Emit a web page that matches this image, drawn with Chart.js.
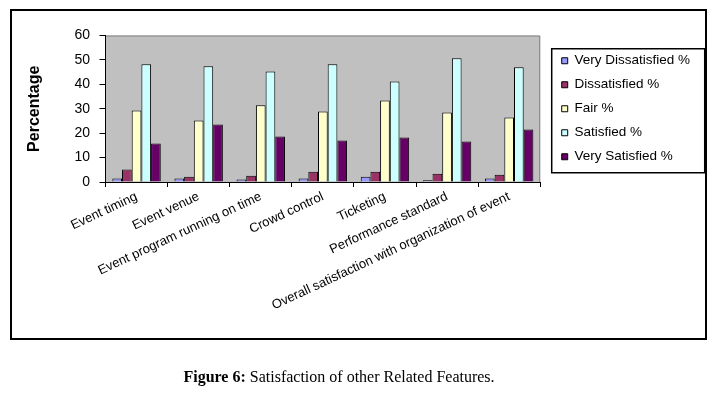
<!DOCTYPE html>
<html><head><meta charset="utf-8">
<script src="https://cdn.jsdelivr.net/npm/chart.js@4.4.0/dist/chart.umd.min.js"></script>
<style>
html,body{margin:0;padding:0;background:#fff;}
#wrap{position:relative;width:718px;height:393px;overflow:hidden;}
#frame{position:absolute;left:10px;top:9px;width:693px;height:327px;border:2px solid #000;}
#c{position:absolute;left:0;top:0;}
#cap{position:absolute;left:0;width:678px;top:368px;text-align:center;font:16px "Liberation Serif","Times New Roman",serif;color:#000;}
</style></head>
<body>
<div id="wrap">
<div id="frame"></div>
<canvas id="c" width="718" height="393"></canvas>
<div id="cap"><b>Figure 6:</b> Satisfaction of other Related Features.</div>
</div>
<script>
const categories = ["Event timing","Event venue","Event program running on time","Crowd control","Ticketing","Performance standard","Overall satisfaction with organization of event"];
const seriesNames = ["Very Dissatisfied %","Dissatisfied %","Fair %","Satisfied %","Very Satisfied %"];
const veryDissatisfied = [1.4,1.4,1.0,1.4,2.2,0.7,1.4];
const dissatisfied = [5.1,2.2,2.6,4.2,4.2,3.4,3.0];
const fair = [29.3,25.2,31.4,28.9,33.4,28.5,26.4];
const satisfied = [48.2,47.4,45.3,48.2,41.2,50.7,47.0];
const verySatisfied = [15.8,23.6,18.6,17.0,18.2,16.6,21.5];
const yMin = 0, yMax = 60, yStep = 10;
const colors = ["#9999FF","#993366","#FFFFCC","#CCFFFF","#660066"];
const seriesValues = [veryDissatisfied, dissatisfied, fair, satisfied, verySatisfied];

const FONT = '"Liberation Sans", Arial, sans-serif';

const plotBg = {
  id: 'plotBg',
  beforeDraw(chart) {
    const {ctx, chartArea: a} = chart;
    ctx.save();
    ctx.fillStyle = '#C0C0C0';
    ctx.fillRect(a.left, a.top, a.right - a.left, a.bottom - a.top);
    ctx.strokeStyle = '#808080';
    ctx.lineWidth = 1;
    ctx.beginPath();
    ctx.moveTo(a.left, a.top + 0.5);
    ctx.lineTo(a.right - 0.5, a.top + 0.5);
    ctx.lineTo(a.right - 0.5, a.bottom);
    ctx.stroke();
    ctx.restore();
  }
};

const legendPlace = {
  id: 'legendPlace',
  afterLayout(chart) {
    const lg = chart.legend;
    if (!lg) return;
    const newLeft = chart.chartArea.right + 11;
    lg.left = newLeft;
    lg.right = newLeft + lg.width;
  },
  afterDraw(chart) {
    const lg = chart.legend;
    if (!lg || !lg.legendHitBoxes || !lg.legendHitBoxes.length) return;
    const hb = lg.legendHitBoxes;
    const first = hb[0], last = hb[hb.length - 1];
    const x0 = first.left - 10;
    const y0 = first.top + first.height / 2 - 12;
    const y1 = last.top + last.height / 2 + 16;
    const x1 = x0 + 153;
    const ctx = chart.ctx;
    ctx.save();
    ctx.strokeStyle = '#000';
    ctx.lineWidth = 1.5;
    ctx.strokeRect(x0, y0, x1 - x0, y1 - y0);
    ctx.restore();
  }
};

new Chart(document.getElementById('c'), {
  type: 'bar',
  data: {
    labels: categories,
    datasets: seriesValues.map((vals, i) => ({
      label: seriesNames[i],
      data: vals,
      backgroundColor: colors[i],
      borderColor: '#000',
      borderWidth: 1,
      categoryPercentage: 0.78,
      barPercentage: 1.0
    }))
  },
  options: {
    responsive: false,
    animation: false,
    devicePixelRatio: 1,
    layout: { padding: { left: 20, top: 35.5, right: 29, bottom: 0 } },
    plugins: {
      legend: {
        position: 'right',
        fullSize: false,
        align: 'center',
        labels: {
          boxWidth: 6, boxHeight: 6,
          padding: 10.5,
          color: '#000',
          font: { family: FONT, size: 13.5 }
        }
      },
      tooltip: { enabled: false },
      title: { display: false }
    },
    scales: {
      x: {
        grid: { offset: true, drawOnChartArea: false, tickLength: 5, color: '#000' },
        border: { color: '#000', width: 1 },
        ticks: { color: '#000', font: { family: FONT, size: 13 }, minRotation: 25, maxRotation: 25, autoSkip: false, padding: 2 },
        afterFit(s) { s.height = 393 - 182; }
      },
      y: {
        min: yMin, max: yMax,
        ticks: { stepSize: yStep, color: '#000', font: { family: FONT, size: 14 }, padding: 9.5 },
        grid: { drawOnChartArea: false, tickLength: 6, color: '#000' },
        border: { color: '#000', width: 1 },
        title: { display: true, text: 'Percentage', color: '#000', font: { family: FONT, size: 16, weight: 'bold' }, padding: { top: 5.4, bottom: 0 } },
        afterFit(s) { s.width = 105.5 - 20; }
      }
    }
  },
  plugins: [plotBg, legendPlace]
});
</script>
</body></html>
